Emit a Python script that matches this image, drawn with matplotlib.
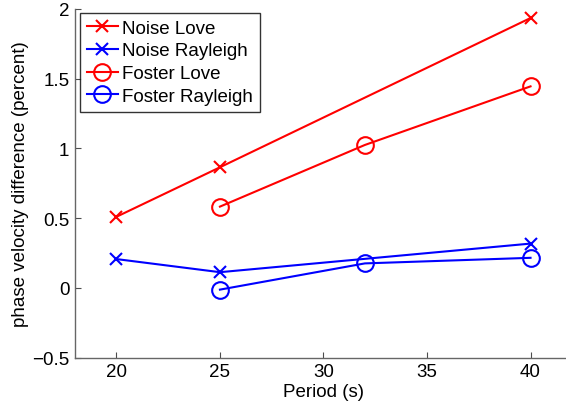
import matplotlib.pyplot as plt
from matplotlib.ticker import FuncFormatter

plt.rcParams['font.family'] = ['Liberation Sans', 'DejaVu Sans']
plt.rcParams['font.size'] = 13.5

# periods (s) and phase velocity differences (percent)
noise_period = [20, 25, 40]
noise_love = [0.51, 0.865, 1.935]
noise_rayleigh = [0.207, 0.113, 0.318]

foster_period = [25, 32, 40]
foster_love = [0.583, 1.025, 1.445]
foster_rayleigh = [-0.012, 0.176, 0.216]

fig = plt.figure(figsize=(5.66, 4.06), dpi=100)
ax = fig.add_axes([0.1325, 0.1165, 0.878, 0.859])

ax.plot(noise_period, noise_love, '-x', color='red', lw=1.5, ms=9, mew=1.5, label='Noise Love')
ax.plot(noise_period, noise_rayleigh, '-x', color='blue', lw=1.5, ms=9, mew=1.5, label='Noise Rayleigh')
ax.plot(foster_period, foster_love, '-o', color='red', lw=1.5, ms=12, mew=1.5, mfc='none', label='Foster Love')
ax.plot(foster_period, foster_rayleigh, '-o', color='blue', lw=1.5, ms=12, mew=1.5, mfc='none', label='Foster Rayleigh')

ax.set_xlim(18, 42)
ax.set_ylim(-0.5, 2)
ax.set_xticks([20, 25, 30, 35, 40])
ax.set_yticks([-0.5, 0, 0.5, 1, 1.5, 2])
ax.yaxis.set_major_formatter(FuncFormatter(lambda v, p: '{:g}'.format(v).replace('-', '\u2212')))

for s in ['top', 'right']:
    ax.spines[s].set_visible(False)
for s in ['left', 'bottom']:
    ax.spines[s].set_color('0.4')
    ax.spines[s].set_linewidth(1.0)
ax.tick_params(direction='in', length=4, width=0.8, color='0.3', labelsize=13.5, pad=4)

ax.set_xlabel('Period (s)', fontsize=13.5, labelpad=2)
ax.set_ylabel('phase velocity difference (percent)', fontsize=13.5, labelpad=2)

leg = ax.legend(loc='upper left', bbox_to_anchor=(80 / 566, 1 - 14 / 406),
                bbox_transform=fig.transFigure, fontsize=13.5, frameon=True,
                fancybox=False, handlelength=1.65, handletextpad=0.25,
                borderpad=0.35, labelspacing=0.3, borderaxespad=0)
leg.get_frame().set_edgecolor('black')
leg.get_frame().set_linewidth(1.0)

fig.savefig('out.png', dpi=100)
